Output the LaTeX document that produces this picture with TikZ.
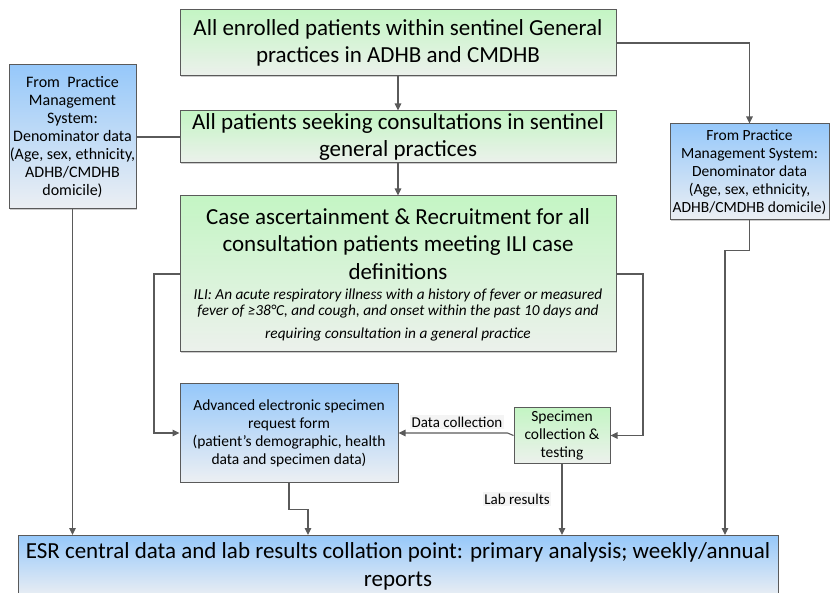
\documentclass[tikz,border=0pt]{standalone}
\usepackage{fontspec}
\setmainfont{Carlito}
\usetikzlibrary{arrows.meta,shadows}
\definecolor{gtop}{RGB}{196,245,196}
\definecolor{gbot}{RGB}{236,241,236}
\definecolor{btop}{RGB}{150,200,250}
\definecolor{bbot}{RGB}{236,239,243}
\definecolor{edge}{RGB}{90,90,90}
\definecolor{lbl}{RGB}{244,244,244}
\tikzset{
  box/.style={draw=edge, line width=1pt, rectangle, inner sep=0.5pt, align=center,
    drop shadow={shadow xshift=1.2pt, shadow yshift=-1.2pt, fill=black!25, opacity=.8}},
  gbox/.style={box, top color=gtop, bottom color=gbot},
  bbox/.style={box, top color=btop, bottom color=bbot},
  conn/.style={draw=edge, line width=1.1pt},
  arr/.style={conn, -{Triangle[length=7pt,width=6.5pt]}},
  big/.style={font=\fontsize{23}{27.5}\selectfont},
  small/.style={font=\fontsize{15.5}{18}\selectfont},
  lab/.style={fill=lbl, inner sep=1.5pt, font=\fontsize{15}{17}\selectfont},
}
\begin{document}
\begin{tikzpicture}[x=1pt,y=-1pt]
\useasboundingbox (0,0) rectangle (830,593);
% boxes
\node[gbox, big, minimum width=436, minimum height=66] (b1) at (398,43)
  {All enrolled patients within sentinel General\\practices in ADHB and CMDHB\hspace{57pt}};
\node[gbox, big, minimum width=436, minimum height=52] (b2) at (398,137)
  {All patients seeking consultations in sentinel\\general practices};
\node[gbox, minimum width=436, minimum height=156] (b3) at (398,274) {};
\node[big, align=center, anchor=north, inner sep=0pt] (b3t) at (398,208)
  {Case ascertainment \& Recruitment for all\\consultation patients meeting ILI case\\definitions};
\node[align=center, anchor=north, inner sep=0pt, font=\fontsize{15.3}{16}\selectfont\itshape] (b3i) at (398,288.5)
  {ILI: An acute respiratory illness with a history of fever or measured\\fever of ≥38°C, and cough, and onset within the past 10 days and\\[7pt]requiring consultation in a general practice};
\node[bbox, font=\fontsize{16}{18}\selectfont, minimum width=127, minimum height=144] (lb) at (72.5,137)
  {From\ \ Practice\\Management\\System:\\Denominator data\\(Age, sex, ethnicity,\\ADHB/CMDHB\\domicile)};
\node[bbox, small, minimum width=159, minimum height=96] (rb) at (749.5,172)
  {From Practice\\Management System:\\Denominator data\\(Age, sex, ethnicity,\\ADHB/CMDHB domicile)};
\node[bbox, small, minimum width=218, minimum height=98] (adv) at (289,433)
  {Advanced electronic specimen\\request form\\(patient’s demographic, health\\data and specimen data)};
\node[gbox, small, minimum width=96, minimum height=55] (spec) at (562,435.5)
  {Specimen\\collection \&\\testing};
\node[bbox, big, minimum width=760, minimum height=62, anchor=north] (esr) at (398,535)
  {ESR central data and lab results collation point: primary analysis; weekly/annual\\reports};
% connectors
\draw[arr] (b1) -- (b2);
\draw[arr] (b2) -- (b3);
\draw[arr] (b1.east) -| (rb.north);
\draw[conn] (lb.east) -- (b2.west);
\draw[arr] (lb.south) -- (lb.south |- esr.north);
\coordinate (r1) at ([yshift=-30]rb.south);
\coordinate (r2) at (725,0);
\draw[arr] (rb.south) -- (r1) -| (r2 |- esr.north);
\coordinate (l1) at (154,0);
\draw[arr] (b3.west) -| (l1 |- adv.west) -- (adv.west);
\coordinate (rr) at (643,0);
\draw[arr] (b3.east) -| (rr |- spec.east) -- (spec.east);
\coordinate (d1) at ([xshift=-6]spec.west |- adv.east);
\draw[arr] (spec.west) -- (d1) -- (adv.east);
\node[lab, anchor=south] (dl) at (457,429) {Data collection};
\coordinate (a1) at ([yshift=-27]adv.south);
\coordinate (a2) at (308,0);
\draw[arr] (adv.south) -- (a1) -| (a2 |- esr.north);
\draw[arr] (spec.south) -- (spec.south |- esr.north);
\node[lab] (ll) at (517,499) {Lab results};
\end{tikzpicture}
\end{document}
